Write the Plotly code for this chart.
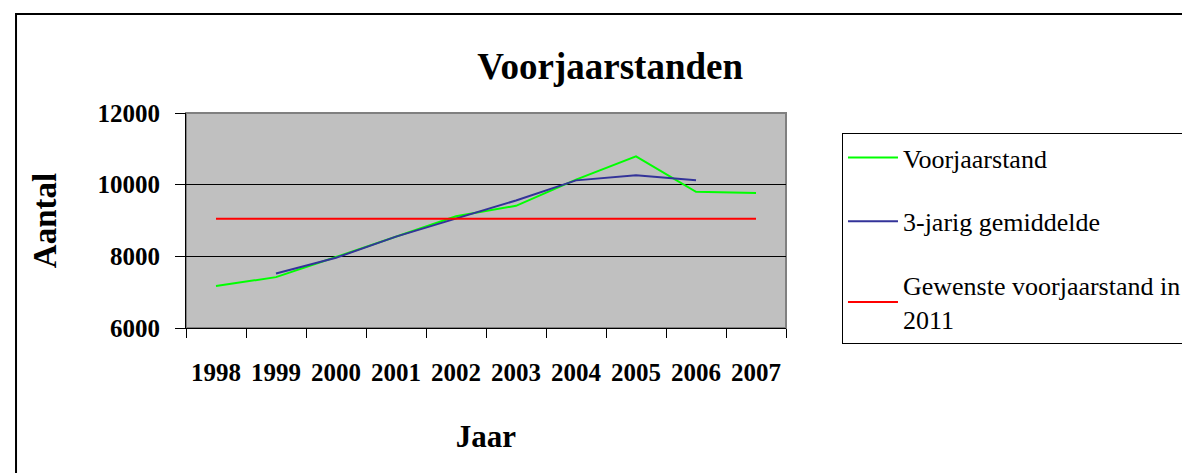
import plotly.graph_objects as go

# Data
jaren = ["1998", "1999", "2000", "2001", "2002", "2003", "2004", "2005", "2006", "2007"]
voorjaarstand = [7170, 7420, 7980, 8540, 9120, 9410, 10140, 10790, 9800, 9770]
gemiddelde_3j = [None, 7520, 7960, 8550, 9050, 9560, 10120, 10260, 10120, None]
gewenst_2011 = [9050, 9050, 9050, 9050, 9050, 9050, 9050, 9050, 9050, 9050]
y_ticks = [6000, 8000, 10000, 12000]

FONT = "Liberation Serif"

fig = go.Figure()
fig.add_trace(go.Scatter(x=jaren, y=voorjaarstand, mode="lines", name="Voorjaarstand",
                         line=dict(color="#00FF00", width=2), legendgroup="a"))
fig.add_trace(go.Scatter(x=jaren, y=gemiddelde_3j, mode="lines", name="3-jarig gemiddelde",
                         line=dict(color="#333399", width=2), legendgroup="b",
                         connectgaps=False))
fig.add_trace(go.Scatter(x=jaren, y=gewenst_2011, mode="lines",
                         name="Gewenste voorjaarstand in<br>2011",
                         line=dict(color="#FF0000", width=2), legendgroup="c"))

# plot frame (grey top/right) and outer chart border
fig.add_shape(type="rect", xref="paper", yref="paper", x0=0, x1=1, y0=0, y1=1,
              line=dict(color="#808080", width=2), layer="below")
fig.add_shape(type="rect", xref="paper", yref="paper", x0=-0.2833, x1=2, y0=-2, y1=1.4605,
              line=dict(color="black", width=2))

fig.update_layout(
    width=1190, height=473,
    margin=dict(l=178, r=412, t=105, b=153, autoexpand=False),
    paper_bgcolor="white",
    plot_bgcolor="#C0C0C0",
    font=dict(family=FONT, color="black"),
    title=dict(text="<b>Voorjaarstanden</b>", x=0.506, xanchor="center",
               y=0.877, yanchor="middle", font=dict(size=37, family=FONT)),
    showlegend=True,
    legend=dict(x=1.0933, xanchor="left", y=0.907, yanchor="top",
                bordercolor="black", borderwidth=1, bgcolor="white",
                font=dict(size=26, family=FONT), tracegroupgap=27,
                itemwidth=50),
    xaxis=dict(type="category", range=[-0.5, 9.5], tickson="boundaries",
               ticks="outside", ticklen=9, tickcolor="black", showgrid=False,
               showline=True, linecolor="black", linewidth=1, tickangle=0,
               tickprefix="<b>", ticksuffix="</b>",
               tickfont=dict(size=25, family=FONT), ticklabelstandoff=22,
               title=dict(text="<b>Jaar</b>", font=dict(size=31, family=FONT), standoff=40)),
    yaxis=dict(range=[6000, 12000], tickvals=y_ticks,
               ticktext=["<b>%d</b>" % v for v in y_ticks],
               ticks="outside", ticklen=10,
               tickcolor="black", showgrid=True, gridcolor="black", gridwidth=1,
               showline=True, linecolor="black", linewidth=1, zeroline=False,
               tickfont=dict(size=25, family=FONT), ticklabelstandoff=10,
               title=dict(text="<b>Aantal</b>", font=dict(size=33, family=FONT), standoff=30)),
)

fig.write_html("out.html")
